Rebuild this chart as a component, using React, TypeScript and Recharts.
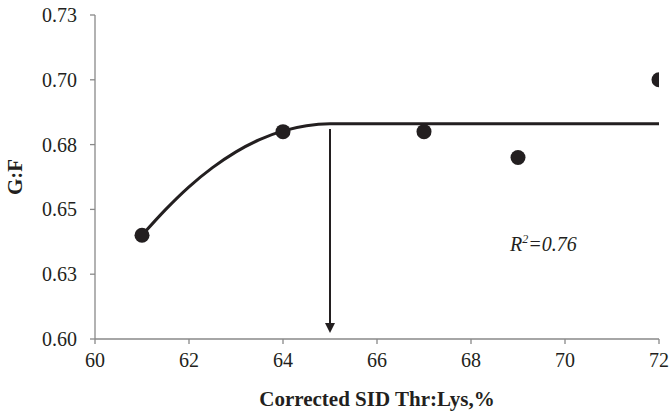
import { ComposedChart, Line, Scatter, XAxis, YAxis, ReferenceLine, ReferenceDot } from "recharts";

const obsThrLys = [61, 64, 67, 69, 72];
const obsGF = [0.64, 0.68, 0.68, 0.67, 0.7];

const fitThrLys = [61, 61.5, 62, 62.5, 63, 63.5, 64, 64.5, 65, 72];
const fitGF = [0.64, 0.6499, 0.6587, 0.6661, 0.6722, 0.6769, 0.6803, 0.6823, 0.683, 0.683];

const xTicks = [60, 62, 64, 66, 68, 70, 72];
const yTicks = [0.6, 0.625, 0.65, 0.675, 0.7, 0.725];
const yTickLabels = ["0.60", "0.63", "0.65", "0.68", "0.70", "0.73"];

const breakPoint = { thrLys: 65, top: 0.681, tip: 0.6023 };
const rSquared = { thrLys: 68.83, gf: 0.634, text: "0.76" };

const observed = obsThrLys.map((x, i) => ({ thrLys: x, gf: obsGF[i] }));
const fitted = fitThrLys.map((x, i) => ({ thrLys: x, gf: fitGF[i] }));

const INK = "#231f20";
const AXIS = "#898989";
const FONT = "Liberation Serif, DejaVu Serif, serif";

const Arrow = (props: any) => {
  const { x1, y1, x2, y2 } = props;
  const head = 10;
  return (
    <g>
      <line x1={x1} y1={y1} x2={x2} y2={y2 - head + 1} stroke={INK} strokeWidth={2} />
      <polygon points={`${x2 - 5},${y2 - head} ${x2 + 5},${y2 - head} ${x2},${y2}`} fill={INK} />
    </g>
  );
};

const RText = (props: any) => {
  const { cx, cy } = props;
  return (
    <text x={cx} y={cy} style={{ fontFamily: FONT }} fontStyle="italic" fontSize={20} fill={INK}>
      <tspan>R</tspan>
      <tspan dy={-8} fontSize={12}>2</tspan>
      <tspan dy={8}>={rSquared.text}</tspan>
    </text>
  );
};

const YTitle = (props: any) => {
  const vb = props.viewBox || {};
  const cy = vb.height ? vb.y + vb.height / 2 : 177;
  return (
    <text
      x={15}
      y={cy}
      transform={`rotate(-90 15 ${cy})`}
      textAnchor="middle"
      dominantBaseline="central"
      style={{ fontFamily: FONT }}
      fontWeight="bold"
      fontSize={21}
      fill={INK}
    >
      G:F
    </text>
  );
};

const XTick = (props: any) => {
  const { x, y, payload } = props;
  return (
    <text x={x} y={y + 21} textAnchor="middle" fill={INK} fontSize={20} style={{ fontFamily: FONT }}>
      {payload.value}
    </text>
  );
};

const YTick = (props: any) => {
  const { x, y, payload } = props;
  return (
    <text x={x - 11} y={y} dy="0.35em" textAnchor="end" fill={INK} fontSize={20} style={{ fontFamily: FONT }}>
      {yTickLabels[yTicks.indexOf(payload.value)] ?? payload.value}
    </text>
  );
};

export default function App() {
  return (
    <div style={{ position: "absolute", left: 0, top: 0, background: "#fff", fontFamily: FONT }}>
      <ComposedChart
        width={669}
        height={413}
        margin={{ top: 15, right: 10, bottom: 0, left: 0 }}
        style={{ fontFamily: FONT }}
      >
        <XAxis
          type="number"
          dataKey="thrLys"
          domain={[60, 72]}
          ticks={xTicks}
          allowDataOverflow
          height={74}
          stroke={AXIS}
          strokeWidth={1.3}
          tickSize={5}
          tick={XTick}
          label={{
            value: "Corrected SID Thr:Lys,%",
            position: "insideBottom",
            offset: 7,
            fill: INK,
            fontSize: 21,
            fontWeight: "bold",
            style: { fontFamily: FONT },
          }}
        />
        <YAxis
          type="number"
          domain={[0.6, 0.725]}
          ticks={yTicks}
          allowDataOverflow
          width={95}
          stroke={AXIS}
          strokeWidth={1.3}
          tickSize={5}
          tick={YTick}
          label={{ content: YTitle }}
        />
        <Line
          data={fitted}
          dataKey="gf"
          type="monotone"
          stroke={INK}
          strokeWidth={3}
          dot={false}
          activeDot={false}
          isAnimationActive={false}
        />
        <Scatter
          data={observed}
          dataKey="gf"
          fill={INK}
          isAnimationActive={false}
          shape={(p: any) => <circle cx={p.cx} cy={p.cy} r={7.5} fill={INK} />}
        />
        <ReferenceLine
          segment={[
            { x: breakPoint.thrLys, y: breakPoint.top },
            { x: breakPoint.thrLys, y: breakPoint.tip },
          ]}
          shape={Arrow}
        />
        <ReferenceDot x={rSquared.thrLys} y={rSquared.gf} r={0} shape={RText} />
      </ComposedChart>
    </div>
  );
}
